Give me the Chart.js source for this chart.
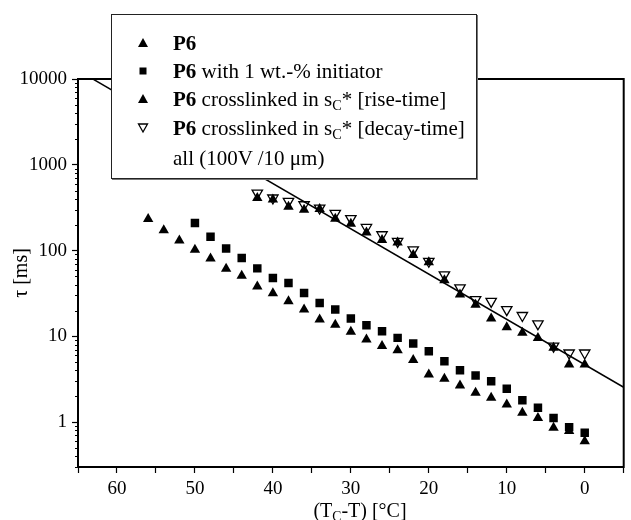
<!DOCTYPE html>
<html>
<head>
<meta charset="utf-8">
<script src="https://cdn.jsdelivr.net/npm/chart.js@4.4.0/dist/chart.umd.min.js"></script>
<style>
  html, body { margin: 0; padding: 0; background: #fff; }
  #wrap { position: relative; width: 631px; height: 520px; }
  #chart { position: absolute; left: 0; top: 0; }
  #legend {
    position: absolute; left: 111px; top: 14px; width: 364px; height: 163px;
    background: #fff; border: 1.5px solid #222; box-shadow: 1px 1px 0 #777;
    font-family: "Liberation Serif", "Times New Roman", serif; font-size: 21px; color: #000;
  }
  .row { position: absolute; left: 0; height: 24px; line-height: 24px; white-space: nowrap; }
  .row svg { position: absolute; left: 25px; top: 6px; }
  .row span { position: absolute; left: 61px; }
  sub { font-size: 0.68em; vertical-align: -0.3em; line-height: 0; }
  #xtitle {
    position: absolute; left: 260px; width: 200px; top: 498px; text-align: center;
    font-family: "Liberation Serif", "Times New Roman", serif; font-size: 20px; line-height: 24px;
  }
</style>
</head>
<body>
<div id="wrap">
  <canvas id="chart" width="631" height="520"></canvas>
  <div id="legend">
    <div class="row" style="top:16px"><svg width="12" height="12"><polygon points="6,1 11,10 1,10" fill="#000"/></svg><span><b>P6</b></span></div>
    <div class="row" style="top:44px"><svg width="12" height="12"><rect x="2.5" y="2.5" width="7" height="7" fill="#000"/></svg><span><b>P6</b> with 1 wt.-% initiator</span></div>
    <div class="row" style="top:72px"><svg width="12" height="12"><polygon points="6,1 11,10 1,10" fill="#000"/></svg><span><b>P6</b> crosslinked in s<sub>C</sub>* [rise-time]</span></div>
    <div class="row" style="top:101px"><svg width="12" height="12"><polygon points="1.5,2 10.5,2 6,10" fill="none" stroke="#000" stroke-width="1.3"/></svg><span><b>P6</b> crosslinked in s<sub>C</sub>* [decay-time]</span></div>
    <div class="row" style="top:131px"><span>all (100V /10 &mu;m)</span></div>
  </div>
  <div id="xtitle">(T<sub>C</sub>-T) [°C]</div>
</div>
<script>
// temperatures (Tc - T) in °C
const tempP6 = [56, 54, 52, 50, 48, 46, 44, 42, 40, 38, 36, 34, 32, 30, 28, 26, 24, 22, 20, 18, 16, 14, 12, 10, 8, 6, 4, 2, 0];
const tempInit = [50, 48, 46, 44, 42, 40, 38, 36, 34, 32, 30, 28, 26, 24, 22, 20, 18, 16, 14, 12, 10, 8, 6, 4, 2, 0];
const tempCross = [42, 40, 38, 36, 34, 32, 30, 28, 26, 24, 22, 20, 18, 16, 14, 12, 10, 8, 6, 4, 2, 0];

// switching times tau in ms
const tauP6 = [233, 172, 131, 102, 81, 61.5, 51, 38, 31.8, 25.6, 20.5, 15.7, 13.7, 11.3, 9.2, 7.7, 6.9, 5.3, 3.6, 3.2, 2.67, 2.2, 1.92, 1.61, 1.29, 1.12, 0.86, 0.79, 0.6];
const tauInit = [210, 145, 106, 82, 62, 48, 42, 32, 24.5, 20.6, 16.2, 13.5, 11.5, 9.6, 8.25, 6.7, 5.13, 4.03, 3.5, 3.0, 2.45, 1.8, 1.47, 1.12, 0.875, 0.75];
const tauRise = [410, 395, 325, 300, 305, 235, 205, 162, 133, 124, 89, 73, 45, 30.7, 23.4, 16.2, 12.8, 11, 9.6, 7.35, 4.7, 4.7];
const tauDecay = [468, 410, 374, 342, 313, 272, 236, 186, 153, 128, 102, 75, 52, 36.7, 26.8, 25.6, 20.5, 17.5, 14, 7.7, 6.4, 6.4];

// fitted line end points
const fitX = [-5, 65];
const fitY = [2.55, 12600];

const xLabels = [60, 50, 40, 30, 20, 10, 0];
const yMajorTicks = [1, 10, 100, 1000, 10000];
const yMinorFactors = [2, 3, 4, 5, 6, 7, 8, 9];

const pts = (xs, ys) => xs.map((x, i) => ({ x: x, y: ys[i] }));

let yTickValues = [];
[0.1, 1, 10, 100, 1000].forEach(d => {
    [1].concat(yMinorFactors).forEach(f => {
        const v = +(d * f).toPrecision(3);
        if (v >= 0.3 && v <= 10000) yTickValues.push(v);
    });
});
yTickValues.push(10000);

const serif = "'Liberation Serif', 'Times New Roman', serif";

// frame + short minor ticks on the log axis
const framePlugin = {
    id: 'frame',
    afterDraw(chart) {
        const { ctx, chartArea: a } = chart;
        const y = chart.scales.y;
        ctx.save();
        ctx.strokeStyle = '#000';
        ctx.lineWidth = 2;
        ctx.strokeRect(a.left, a.top, a.right - a.left, a.bottom - a.top);
        ctx.lineWidth = 1;
        yTickValues.filter(v => !yMajorTicks.includes(v)).forEach(v => {
            const py = Math.round(y.getPixelForValue(v)) + 0.5;
            ctx.beginPath();
            ctx.moveTo(a.left - 3, py);
            ctx.lineTo(a.left, py);
            ctx.stroke();
        });
        ctx.restore();
    }
};

new Chart(document.getElementById('chart'), {
    type: 'scatter',
    data: {
        datasets: [
            {
                label: 'P6',
                data: pts(tempP6, tauP6),
                pointStyle: 'triangle', pointRadius: 6,
                backgroundColor: '#000', borderColor: '#000', borderWidth: 0
            },
            {
                label: 'P6 with 1 wt.-% initiator',
                data: pts(tempInit, tauInit),
                pointStyle: 'rect', pointRadius: 6,
                backgroundColor: '#000', borderColor: '#000', borderWidth: 0
            },
            {
                label: 'P6 crosslinked in sC* [rise-time]',
                data: pts(tempCross, tauRise),
                pointStyle: 'triangle', pointRadius: 6,
                backgroundColor: '#000', borderColor: '#000', borderWidth: 0
            },
            {
                label: 'P6 crosslinked in sC* [decay-time]',
                data: pts(tempCross, tauDecay),
                pointStyle: 'triangle', pointRotation: 180, pointRadius: 6,
                backgroundColor: 'rgba(0,0,0,0)', borderColor: '#000', borderWidth: 1.3
            },
            {
                label: 'fit',
                type: 'line',
                data: pts(fitX, fitY),
                borderColor: '#000', borderWidth: 1.5,
                pointRadius: 0, fill: false
            }
        ]
    },
    options: {
        responsive: false,
        animation: false,
        events: [],
        layout: { padding: { top: 79, right: 5, left: 0, bottom: 0 } },
        plugins: { legend: { display: false }, tooltip: { enabled: false } },
        scales: {
            x: {
                type: 'linear',
                min: -5, max: 65, reverse: true,
                afterFit: s => { s.height = 53; },
                border: { display: true, color: '#000', width: 2 },
                grid: { display: true, drawOnChartArea: false, tickLength: 6, tickColor: '#000', tickWidth: 1.2 },
                ticks: {
                    stepSize: 5, autoSkip: false, maxRotation: 0, padding: 5,
                    color: '#000', font: { family: serif, size: 19 },
                    callback: v => xLabels.includes(v) ? String(v) : ''
                }
            },
            y: {
                type: 'logarithmic',
                min: 0.3, max: 10000,
                afterFit: s => { s.width = 78; },
                afterBuildTicks: s => { s.ticks = yTickValues.map(v => ({ value: v, major: yMajorTicks.includes(v) })); },
                border: { display: true, color: '#000', width: 2 },
                grid: {
                    display: true, drawOnChartArea: false, tickLength: 6, tickWidth: 1.2,
                    tickColor: c => (c.tick && yMajorTicks.includes(c.tick.value)) ? '#000' : 'rgba(0,0,0,0)'
                },
                ticks: {
                    autoSkip: false, padding: 5,
                    color: '#000', font: { family: serif, size: 19 },
                    callback: v => yMajorTicks.includes(v) ? String(v) : ''
                },
                title: {
                    display: true, text: 'τ [ms]', color: '#000',
                    font: { family: serif, size: 20 }, padding: { top: 10, bottom: 0 }
                }
            }
        }
    },
    plugins: [framePlugin]
});
</script>
</body>
</html>
